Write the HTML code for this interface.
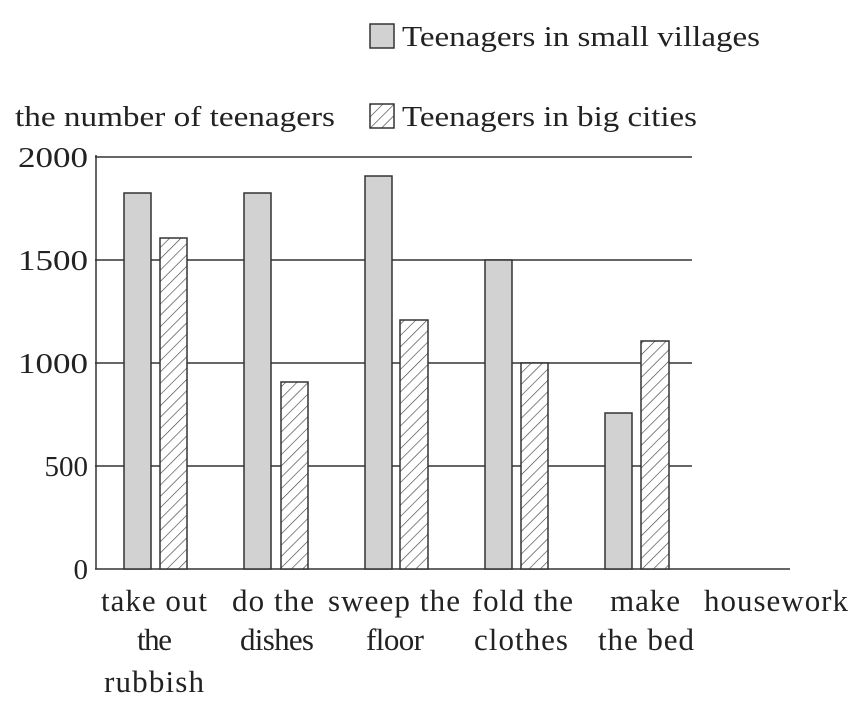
<!DOCTYPE html>
<html><head><style>body{margin:0;background:#fff}svg{display:block}</style></head><body>
<svg width="857" height="721" viewBox="0 0 857 721" xmlns="http://www.w3.org/2000/svg" font-family="Liberation Serif, serif" font-size="29" fill="#222">
<defs>
<pattern id="h" patternUnits="userSpaceOnUse" width="8" height="8" patternTransform="rotate(45)">
<rect width="8" height="8" fill="#fff"/><line x1="0" y1="0" x2="0" y2="8" stroke="#444" stroke-width="1.3"/>
</pattern>
</defs>
<rect width="857" height="721" fill="#fff"/>
<g stroke="#333" stroke-width="1.5">
<line x1="95" y1="157" x2="692" y2="157"/>
<line x1="95" y1="260" x2="692" y2="260"/>
<line x1="95" y1="363" x2="692" y2="363"/>
<line x1="95" y1="466" x2="692" y2="466"/>
<line x1="95" y1="569" x2="790" y2="569"/>
<line x1="96" y1="155" x2="96" y2="569"/>
</g>
<g stroke="#333" stroke-width="1.5">
<rect x="124" y="193" width="27" height="376" fill="#d2d2d2"/>
<rect x="160" y="238" width="27" height="331" fill="url(#h)"/>
<rect x="244" y="193" width="27" height="376" fill="#d2d2d2"/>
<rect x="281" y="382" width="27" height="187" fill="url(#h)"/>
<rect x="365" y="176" width="27" height="393" fill="#d2d2d2"/>
<rect x="400" y="320" width="28" height="249" fill="url(#h)"/>
<rect x="485" y="260" width="27" height="309" fill="#d2d2d2"/>
<rect x="521" y="363" width="27" height="206" fill="url(#h)"/>
<rect x="605" y="413" width="27" height="156" fill="#d2d2d2"/>
<rect x="641" y="341" width="28" height="228" fill="url(#h)"/>
<rect x="370" y="24" width="24" height="24" fill="#d2d2d2"/>
<rect x="370" y="104" width="24" height="24" fill="url(#h)"/>
</g>
<text x="402" y="46" textLength="358" lengthAdjust="spacingAndGlyphs">Teenagers in small villages</text>
<text x="402" y="126" textLength="295" lengthAdjust="spacingAndGlyphs">Teenagers in big cities</text>
<text x="15" y="126" textLength="320" lengthAdjust="spacingAndGlyphs">the number of teenagers</text>
<g text-anchor="end">
<text x="88" y="167" textLength="70" lengthAdjust="spacingAndGlyphs">2000</text>
<text x="88" y="270" textLength="70" lengthAdjust="spacingAndGlyphs">1500</text>
<text x="88" y="373" textLength="70" lengthAdjust="spacingAndGlyphs">1000</text>
<text x="88" y="476">500</text>
<text x="88" y="579">0</text>
</g>
<g lengthAdjust="spacingAndGlyphs" font-size="31">
<text x="101" y="611" textLength="106">take out</text>
<text x="137" y="650" textLength="35">the</text>
<text x="104" y="692" textLength="100">rubbish</text>
<text x="232" y="611" textLength="82">do the</text>
<text x="240" y="650" textLength="74">dishes</text>
<text x="328" y="611" textLength="132">sweep the</text>
<text x="366" y="650" textLength="58">floor</text>
<text x="472" y="611" textLength="101">fold the</text>
<text x="474" y="650" textLength="94">clothes</text>
<text x="610" y="611" textLength="70">make</text>
<text x="598" y="650" textLength="96">the bed</text>
<text x="704" y="611" textLength="144">housework</text>
</g>
</svg>
</body></html>
